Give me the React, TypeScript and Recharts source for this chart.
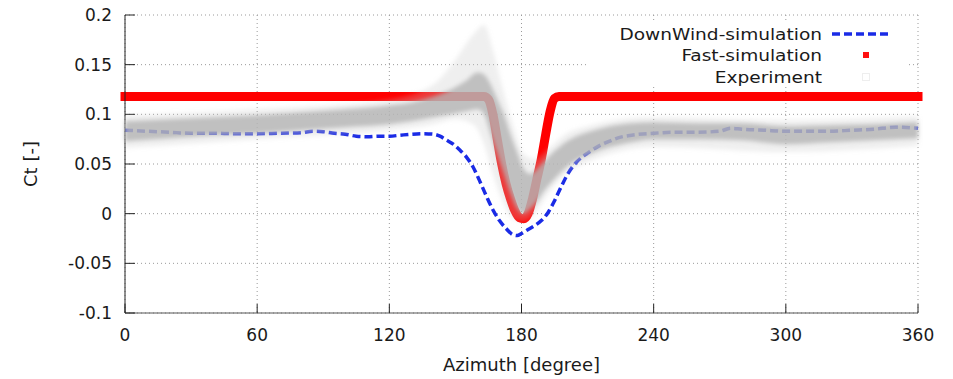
import React from "react";
import { ComposedChart, Line, Area, XAxis, YAxis, CartesianGrid } from "recharts";

const azimuthTicks = [0, 60, 120, 180, 240, 300, 360];
const ctTicks = [-0.1, -0.05, 0, 0.05, 0.1, 0.15, 0.2];

// DownWind-simulation
const downwindAz = [
  0, 10, 20, 30, 40, 50, 60, 70, 80, 85, 90, 95, 100, 105, 110, 115, 120, 125, 130, 135, 140,
  143, 146, 149, 152, 155, 158, 161, 164, 167, 170, 173, 176, 178, 180, 183, 186, 189, 192, 195,
  198, 201, 205, 210, 215, 220, 225, 230, 240, 250, 260, 270, 275, 280, 290, 300, 310, 320, 330,
  340, 350, 360,
];
const downwindCt = [
  0.084, 0.083, 0.082, 0.081, 0.081, 0.0805, 0.0805, 0.081, 0.0815, 0.083, 0.0825, 0.081, 0.08,
  0.078, 0.0775, 0.078, 0.078, 0.079, 0.08, 0.0805, 0.08, 0.078, 0.074, 0.07, 0.064, 0.057, 0.047,
  0.033, 0.018, 0.004, -0.007, -0.015, -0.021, -0.022, -0.02, -0.016, -0.012, -0.007, 0.001, 0.013,
  0.027, 0.04, 0.052, 0.061, 0.068, 0.073, 0.077, 0.079, 0.081, 0.082, 0.082, 0.083, 0.086, 0.085,
  0.084, 0.083, 0.083, 0.083, 0.084, 0.085, 0.087, 0.086,
];

// Fast-simulation
const fastAz = [
  0, 163, 165, 167, 169, 171, 173, 175, 177, 179, 181, 183, 185, 187, 189, 191, 193, 195, 197, 360,
];
const fastCt = [
  0.118, 0.118, 0.115, 0.1, 0.075, 0.05, 0.03, 0.015, 0.003, -0.004, -0.005, 0.0, 0.015, 0.035,
  0.055, 0.08, 0.103, 0.116, 0.118, 0.118,
];

// Experiment: dense core of the scatter
const expAz = [
  0, 20, 40, 60, 80, 100, 120, 130, 140, 148, 155, 160, 163, 166, 169, 172, 175, 178, 181, 184,
  187, 190, 195, 200, 205, 210, 220, 230, 240, 260, 280, 300, 320, 340, 360,
];
const expLow = [
  0.073, 0.076, 0.079, 0.081, 0.084, 0.087, 0.09, 0.093, 0.097, 0.1, 0.103, 0.105, 0.1, 0.08, 0.06,
  0.04, 0.02, 0.005, 0.0, 0.005, 0.012, 0.022, 0.035, 0.046, 0.054, 0.059, 0.067, 0.072, 0.075,
  0.075, 0.074, 0.07, 0.072, 0.074, 0.076,
];
const expHigh = [
  0.093, 0.095, 0.097, 0.099, 0.102, 0.105, 0.109, 0.112, 0.118, 0.125, 0.134, 0.142, 0.14, 0.13,
  0.115, 0.1, 0.08, 0.062, 0.045, 0.04, 0.045, 0.052, 0.063, 0.072, 0.078, 0.082, 0.088, 0.091,
  0.092, 0.091, 0.091, 0.088, 0.089, 0.09, 0.092,
];

// Experiment: faint outer scatter
const hazeAz = [
  0, 60, 120, 140, 150, 158, 163, 167, 171, 176, 181, 186, 192, 200, 210, 225, 240, 300, 360,
];
const hazeLow = [
  0.066, 0.075, 0.084, 0.09, 0.095, 0.09, 0.07, 0.04, 0.015, -0.005, -0.008, 0.0, 0.02, 0.04, 0.052,
  0.063, 0.067, 0.062, 0.068,
];
const hazeHigh = [
  0.099, 0.105, 0.115, 0.13, 0.155, 0.18, 0.19, 0.165, 0.13, 0.09, 0.06, 0.055, 0.065, 0.08, 0.088,
  0.095, 0.097, 0.094, 0.098,
];

const downwindData = downwindAz.map((az, i) => ({ az, ct: downwindCt[i] }));
const fastData = fastAz.map((az, i) => ({ az, ct: fastCt[i] }));
const expData = expAz.map((az, i) => ({ az, band: [expLow[i], expHigh[i]] }));
const hazeData = hazeAz.map((az, i) => ({ az, band: [hazeLow[i], hazeHigh[i]] }));

const FONT = "'DejaVu Sans', sans-serif";
const INK = "#1a1a1a";
const tickStyle = { fontFamily: FONT, fontSize: 17, fill: INK };
const titleStyle = { fontFamily: FONT, fontSize: 18, fill: INK };

// gnuplot-style key, right aligned text with the sample to its right
function KeyBox() {
  const rows = [
    { label: "DownWind-simulation", y: 11 },
    { label: "Fast-simulation", y: 32 },
    { label: "Experiment", y: 54 },
  ];
  return (
    <div
      style={{
        position: "absolute",
        left: 588,
        top: 23,
        width: 318,
        height: 63,
        background: "#fff",
      }}
    >
      <svg width={318} height={63} style={{ fontFamily: FONT, fontSize: 16, fill: INK }}>
        {rows.map((r) => (
          <text
            key={r.label}
            transform={`translate(234 ${r.y}) scale(1.16 1)`}
            textAnchor="end"
            dominantBaseline="central"
          >
            {r.label}
          </text>
        ))}
        <line x1={244} x2={303} y1={11} y2={11} stroke="#1a2be6" strokeWidth={3.5} strokeDasharray="8 4" />
        <rect x={275} y={29} width={6} height={6} fill="#ff1010" />
        <rect x={274.5} y={50.5} width={7} height={7} fill="none" stroke="#eeeeee" />
      </svg>
    </div>
  );
}

export default function App() {
  return (
    <div style={{ position: "absolute", left: 0, top: 0, width: 953, height: 379, background: "#fff" }}>
      <style>{`.exp-band path { filter: url(#haze); }`}</style>
      <ComposedChart width={953} height={379} margin={{ top: 15, right: 35, bottom: 36, left: 65 }}>
        <defs>
          <filter id="haze" x="-5%" y="-20%" width="110%" height="140%">
            <feGaussianBlur stdDeviation="2" />
          </filter>
        </defs>
        <CartesianGrid stroke="#9a9a9a" strokeDasharray="1 3" />
        <XAxis
          dataKey="az"
          type="number"
          domain={[0, 360]}
          ticks={azimuthTicks}
          height={30}
          tickSize={-9}
          tickMargin={25}
          tick={tickStyle}
          axisLine={{ stroke: "#555" }}
          tickLine={{ stroke: "#222" }}
          label={{ value: "Azimuth [degree]", position: "bottom", offset: 15, style: titleStyle }}
        />
        <XAxis
          xAxisId="top"
          orientation="top"
          type="number"
          domain={[0, 360]}
          ticks={azimuthTicks}
          height={0}
          tickSize={-9}
          tick={false}
          axisLine={{ stroke: "#222" }}
          tickLine={{ stroke: "#222" }}
        />
        <YAxis
          type="number"
          domain={[-0.1, 0.2]}
          ticks={ctTicks}
          width={60}
          tickSize={-10}
          tickMargin={23}
          tick={tickStyle}
          axisLine={{ stroke: "#222" }}
          tickLine={{ stroke: "#222" }}
          label={{
            value: "Ct [-]",
            angle: -90,
            position: "left",
            offset: 34,
            style: { ...titleStyle, textAnchor: "middle" },
          }}
        />
        <YAxis
          yAxisId="right"
          orientation="right"
          type="number"
          domain={[-0.1, 0.2]}
          ticks={ctTicks}
          width={0}
          tickSize={-10}
          tick={false}
          axisLine={{ stroke: "#222" }}
          tickLine={{ stroke: "#222" }}
        />
        <Line
          data={downwindData}
          dataKey="ct"
          type="monotone"
          stroke="#1a2be6"
          strokeWidth={3.5}
          strokeDasharray="8 4"
          dot={false}
          isAnimationActive={false}
        />
        <Line
          data={fastData}
          dataKey="ct"
          type="monotone"
          stroke="#ff0000"
          strokeWidth={9}
          strokeLinecap="square"
          strokeLinejoin="round"
          dot={false}
          isAnimationActive={false}
        />
        <Area
          className="exp-band"
          data={hazeData}
          dataKey="band"
          type="monotone"
          stroke="none"
          fill="#c4c4c4"
          fillOpacity={0.28}
          zIndex={610}
          isAnimationActive={false}
        />
        <Area
          className="exp-band"
          data={expData}
          dataKey="band"
          type="monotone"
          stroke="none"
          fill="#b4b4b4"
          fillOpacity={0.8}
          zIndex={620}
          isAnimationActive={false}
        />
      </ComposedChart>
      <KeyBox />
    </div>
  );
}
